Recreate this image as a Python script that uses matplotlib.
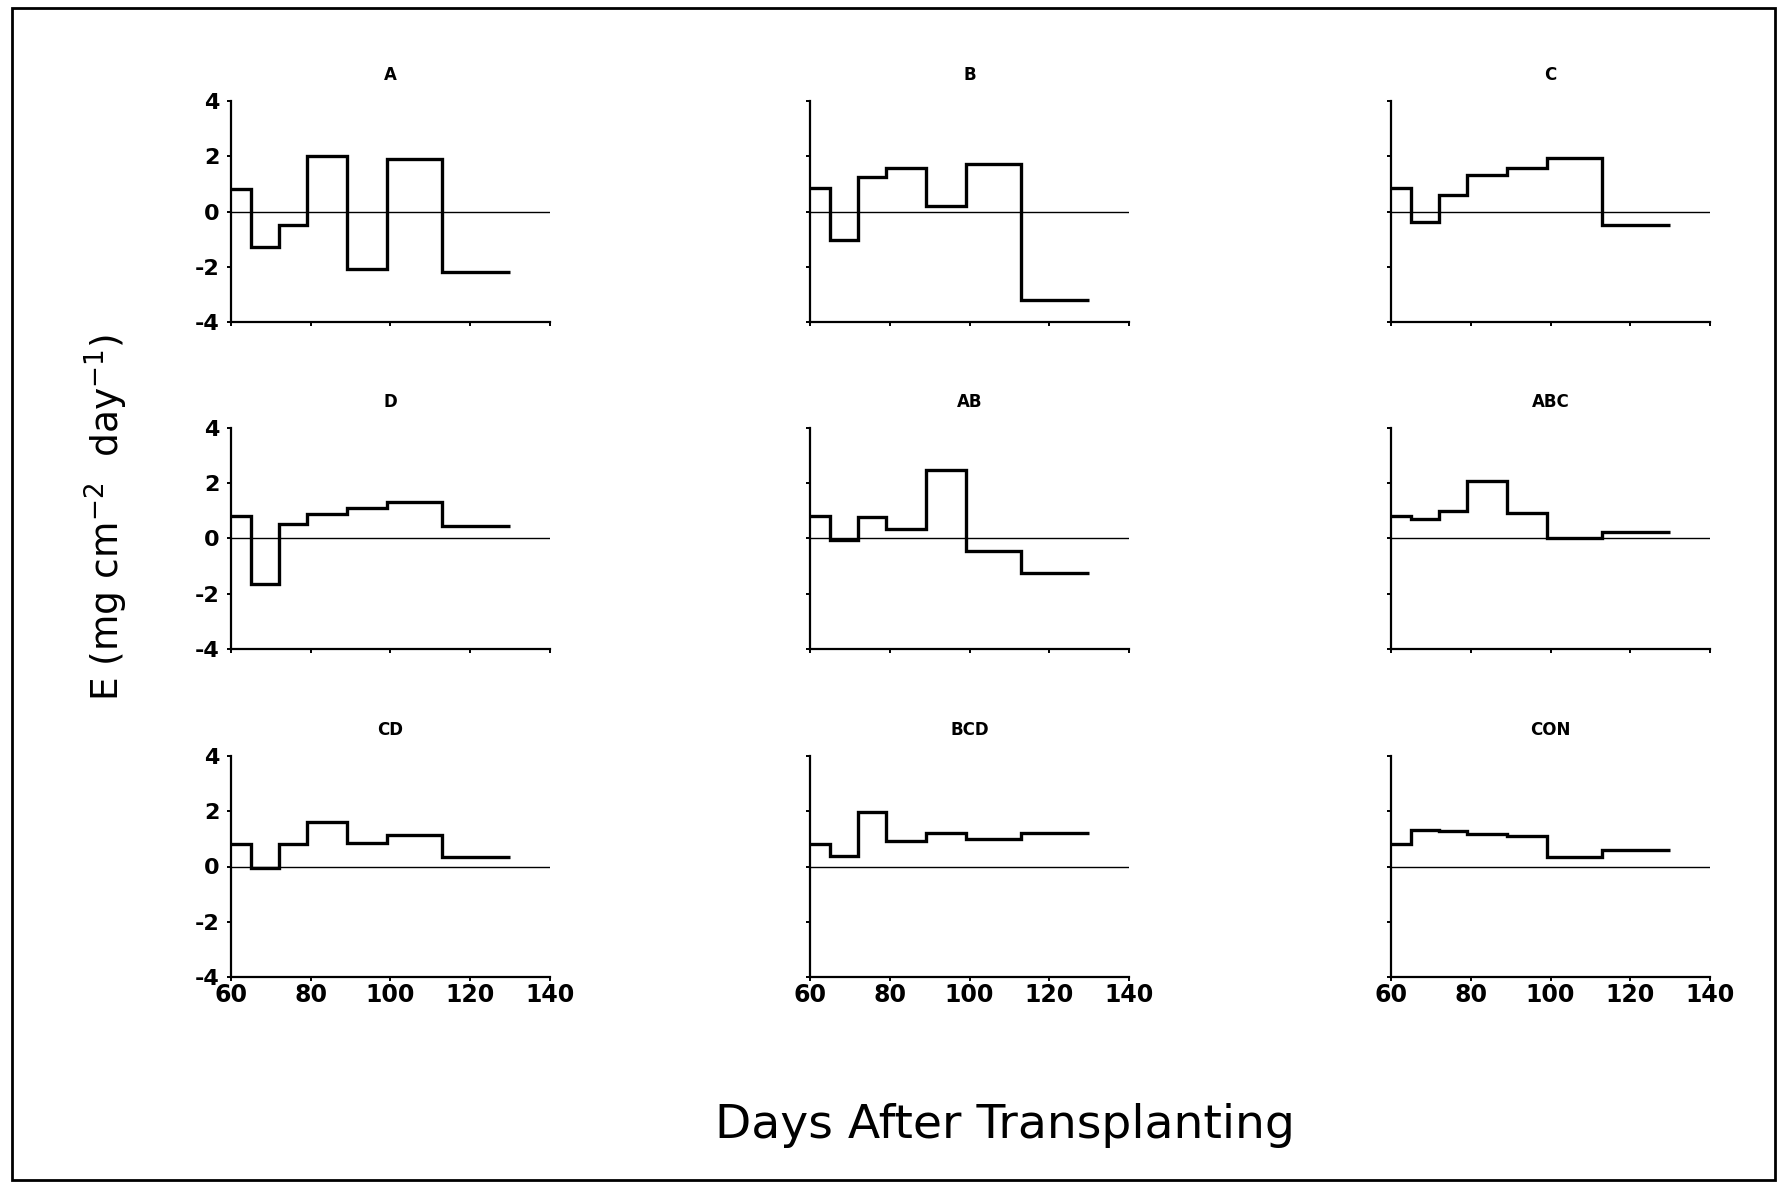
import numpy as np
import matplotlib
matplotlib.use("Agg")
import matplotlib.pyplot as plt
from matplotlib.patches import Rectangle

plt.rcParams['font.family'] = ['DejaVu Sans']
plt.rcParams['axes.unicode_minus'] = False

# sampling dates (days after transplanting) bounding each interval
days = [60, 65, 72, 79, 89, 99, 113, 130]

# E for each interval, per treatment
rate_A = [0.81, -1.28, -0.48, 2.01, -2.08, 1.89, -2.20]
rate_B = [0.84, -1.03, 1.25, 1.56, 0.20, 1.72, -3.19]
rate_C = [0.84, -0.37, 0.59, 1.32, 1.56, 1.94, -0.48]
rate_D = [0.81, -1.65, 0.51, 0.87, 1.12, 1.33, 0.47]
rate_AB = [0.82, -0.05, 0.78, 0.33, 2.49, -0.46, -1.26]
rate_ABC = [0.80, 0.70, 1.00, 2.07, 0.94, 0.00, 0.24]
rate_CD = [0.82, -0.04, 0.82, 1.60, 0.84, 1.14, 0.34]
rate_BCD = [0.83, 0.38, 1.99, 0.92, 1.22, 1.00, 1.22]
rate_CON = [0.83, 1.31, 1.30, 1.19, 1.10, 0.35, 0.59]

treatments = ["A", "B", "C", "D", "AB", "ABC", "CD", "BCD", "CON"]
rates = [rate_A, rate_B, rate_C, rate_D, rate_AB, rate_ABC,
         rate_CD, rate_BCD, rate_CON]

x_ticks = [60, 80, 100, 120, 140]
y_ticks = [-4, -2, 0, 2, 4]

W, H = 1781, 1186
fig = plt.figure(figsize=(W / 100, H / 100), dpi=100)

col_left = [231, 810, 1391]
row_top = [101, 428, 756]
aw, ah = 319, 221

for i, (name, vals) in enumerate(zip(treatments, rates)):
    r, c = divmod(i, 3)
    ax = fig.add_axes([col_left[c] / W, 1 - (row_top[r] + ah) / H, aw / W, ah / H])
    ax.axhline(0, color='black', lw=1.0, zorder=1)
    ax.stairs(vals, days, baseline=None, color='black', lw=2.4, zorder=2)
    ax.set_xlim(60, 140)
    ax.set_ylim(-4, 4)
    ax.set_xticks(x_ticks)
    ax.set_yticks(y_ticks)
    for side in ['top', 'right']:
        ax.spines[side].set_visible(False)
    for side in ['left', 'bottom']:
        ax.spines[side].set_linewidth(1.6)
    ax.tick_params(axis='both', direction='out', length=3, width=1.4)
    ax.tick_params(axis='x', pad=1)
    ax.tick_params(axis='y', pad=5)
    if c != 0:
        ax.set_yticklabels([])
    else:
        for t in ax.get_yticklabels():
            t.set_fontsize(16)
            t.set_fontweight('bold')
    if r != 2:
        ax.set_xticklabels([])
    else:
        for t in ax.get_xticklabels():
            t.set_fontsize(17)
            t.set_fontweight('bold')
    ax.set_title(name, fontsize=12, fontweight='bold', pad=15)
    ax.patch.set_visible(False)

fig.text(106 / W, 1 - 518 / H, r'E $(\mathrm{mg\ cm^{-2}\ \ day^{-1}})$',
         rotation=90, ha='center', va='center', fontsize=27)
fig.text(1005 / W, 1 - 1126 / H, 'Days After Transplanting',
         ha='center', va='center', fontsize=34)

# page frame
fig.add_artist(Rectangle((12 / W, 1 - 1180 / H), (1775 - 12) / W, (1180 - 8) / H,
                         transform=fig.transFigure, fill=False,
                         edgecolor='black', lw=2))

fig.savefig('out.png', dpi=100)
